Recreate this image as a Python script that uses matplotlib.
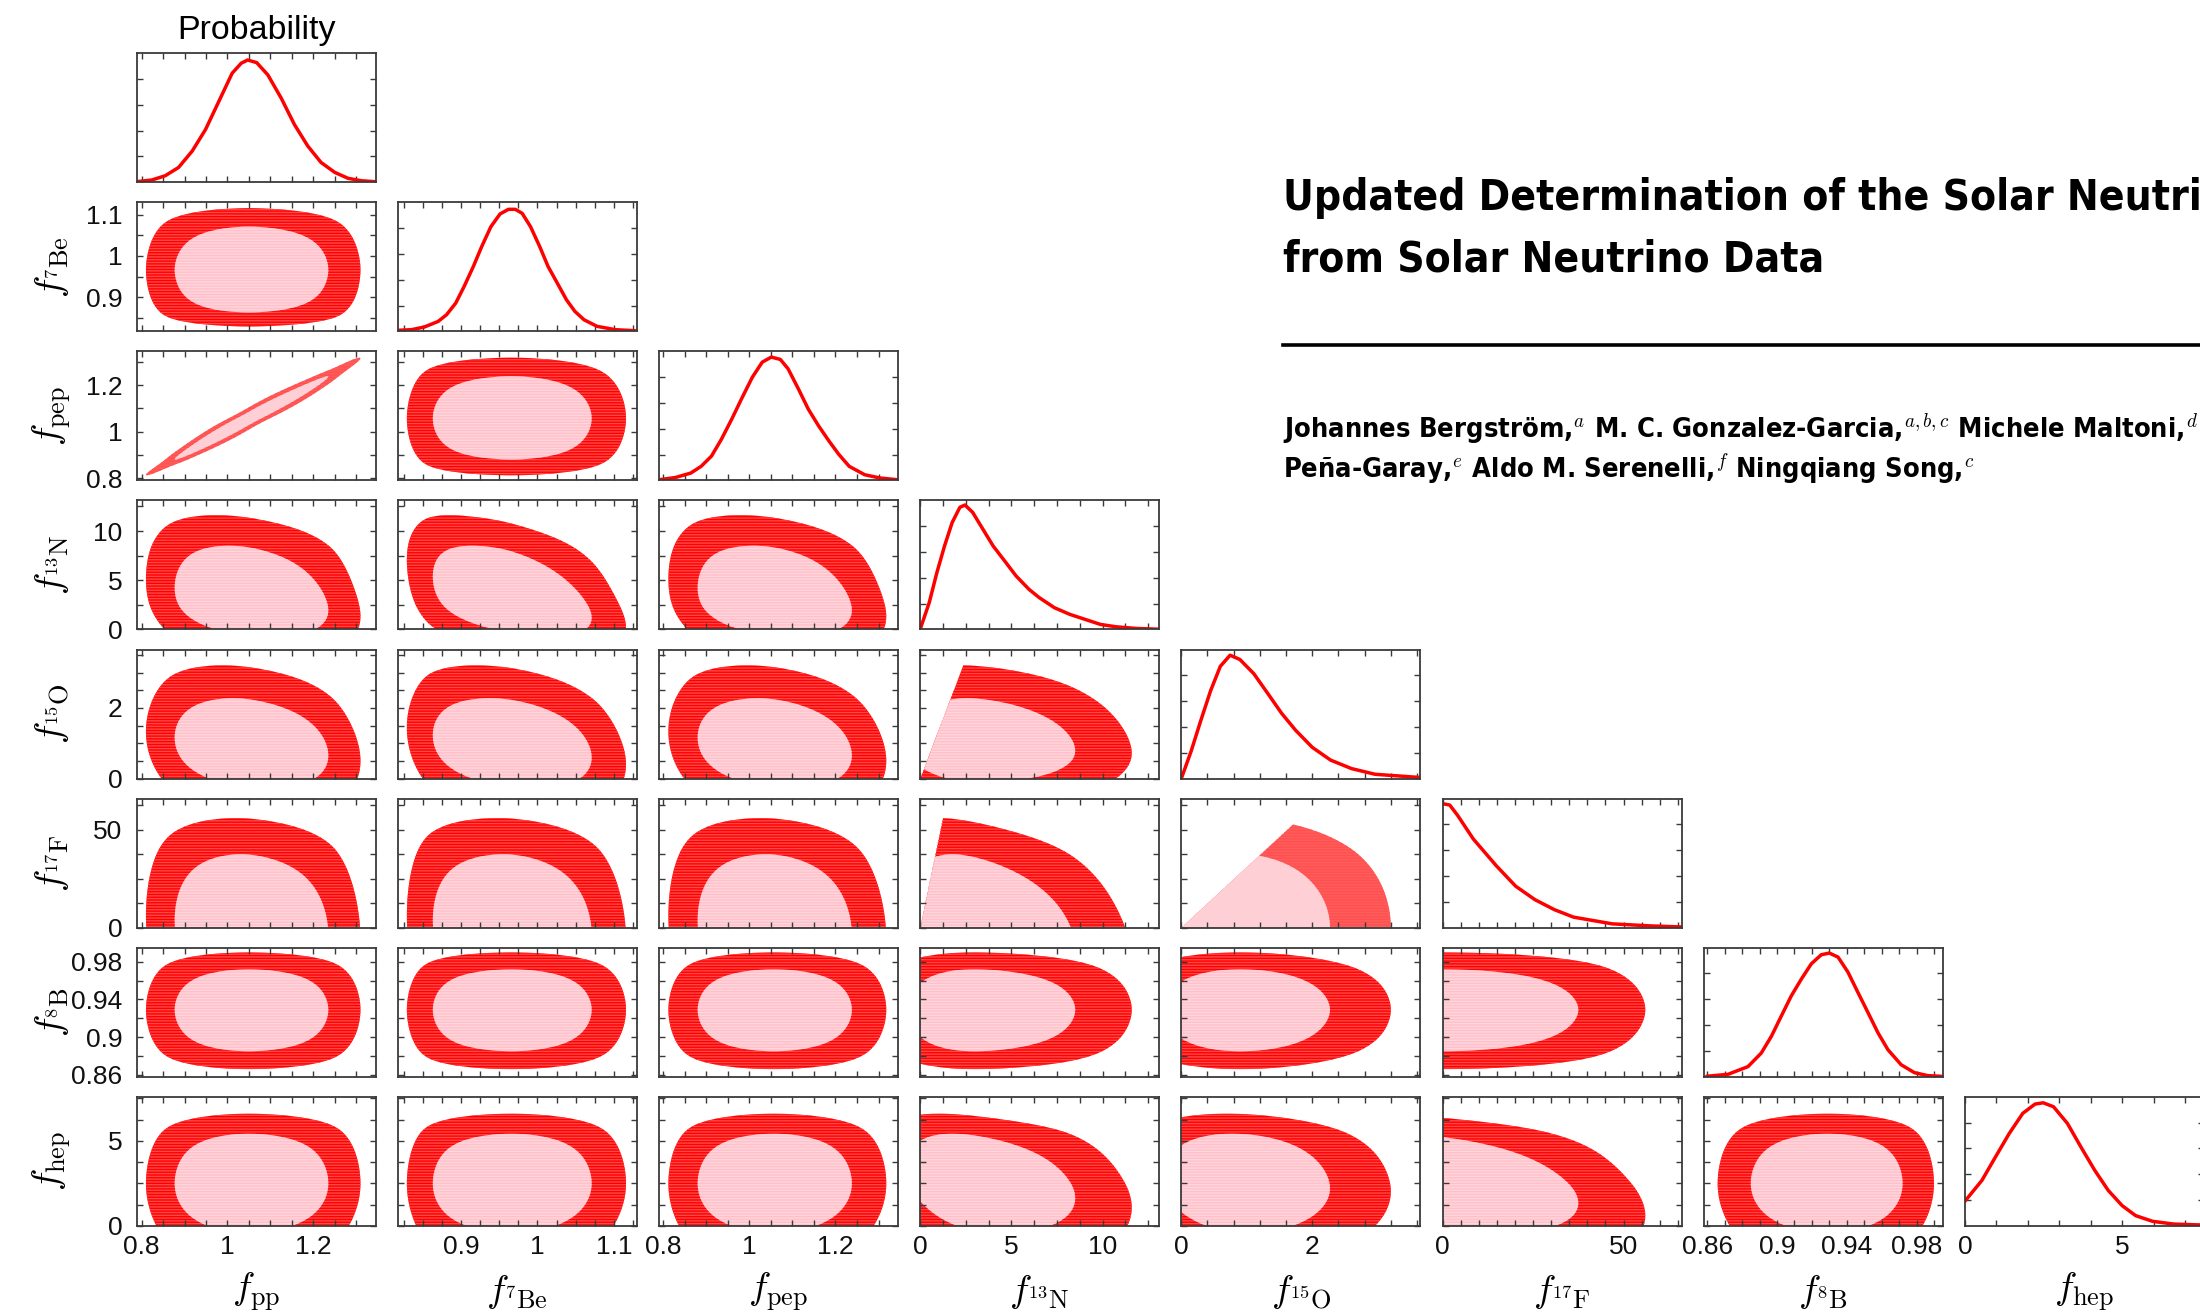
import numpy as np
import matplotlib
matplotlib.use("Agg")
import matplotlib.pyplot as plt
from matplotlib.lines import Line2D

plt.rcParams["mathtext.fontset"] = "cm"
plt.rcParams["font.family"] = ["Liberation Sans", "DejaVu Sans"]
plt.rcParams["hatch.linewidth"] = 1.0

# ---------------------------------------------------------------- variables
names = ["pp", "7Be", "pep", "13N", "15O", "17F", "8B", "hep"]
axis_labels = [r"$f_{\rm pp}$", r"$f_{{}^{7}\mathrm{Be}}$", r"$f_{\rm pep}$",
               r"$f_{{}^{13}\mathrm{N}}$", r"$f_{{}^{15}\mathrm{O}}$",
               r"$f_{{}^{17}\mathrm{F}}$", r"$f_{{}^{8}\mathrm{B}}$", r"$f_{\rm hep}$"]

axis_lo = [0.788, 0.817, 0.790, 0.0, 0.0, 0.0, 0.858, 0.0]
axis_hi = [1.345, 1.130, 1.345, 13.1, 3.65, 66.0, 0.995, 7.6]

tick_vals = [[0.8, 1.0, 1.2], [0.9, 1.0, 1.1], [0.8, 1.0, 1.2], [0, 5, 10],
             [0, 2], [0, 50], [0.86, 0.90, 0.94, 0.98], [0, 5]]
tick_text = [["0.8", "1", "1.2"], ["0.9", "1", "1.1"], ["0.8", "1", "1.2"],
             ["0", "5", "10"], ["0", "2"], ["0", "50"],
             ["0.86", "0.9", "0.94", "0.98"], ["0", "5"]]
minor_step_x = [0.05, 0.025, 0.05, 1.25, 0.4, 5.0, 0.01, 1.0]
minor_step_y = [0.05, 0.05, 0.1, 2.5, 0.5, 12.5, 0.02, 1.25]

# ------------------------------------------------------ 1D marginal curves
pp_grid = [0.789, 0.824, 0.855, 0.886, 0.918, 0.949, 0.980, 1.011, 1.032, 1.047,
           1.068, 1.094, 1.125, 1.156, 1.187, 1.218, 1.250, 1.281, 1.312, 1.343]
pp_prob = [0.005, 0.018, 0.051, 0.115, 0.243, 0.410, 0.628, 0.846, 0.923, 0.948,
           0.928, 0.833, 0.654, 0.448, 0.282, 0.154, 0.077, 0.031, 0.012, 0.005]

be7_grid = [0.817, 0.835, 0.852, 0.870, 0.881, 0.893, 0.904, 0.916, 0.927, 0.939,
            0.951, 0.962, 0.971, 0.980, 0.991, 1.003, 1.014, 1.026, 1.038, 1.049,
            1.061, 1.078, 1.102, 1.128]
be7_prob = [0.008, 0.013, 0.034, 0.077, 0.129, 0.219, 0.348, 0.502, 0.657, 0.811,
            0.910, 0.946, 0.946, 0.915, 0.811, 0.657, 0.502, 0.374, 0.245, 0.155,
            0.090, 0.039, 0.013, 0.005]

pep_grid = [0.790, 0.829, 0.864, 0.888, 0.912, 0.935, 0.959, 0.983, 1.007, 1.030,
            1.051, 1.072, 1.090, 1.114, 1.137, 1.161, 1.185, 1.208, 1.232, 1.268,
            1.303, 1.345]
pep_prob = [0.005, 0.023, 0.057, 0.109, 0.188, 0.318, 0.474, 0.640, 0.800, 0.917,
            0.956, 0.938, 0.865, 0.709, 0.552, 0.422, 0.305, 0.201, 0.109, 0.044,
            0.019, 0.005]

n13_grid = [0.0, 0.50, 0.92, 1.34, 1.76, 2.18, 2.46, 2.88, 3.44, 4.00, 4.56, 5.26,
            5.97, 6.53, 7.36, 8.21, 9.05, 9.89, 10.73, 11.85, 13.1]
n13_prob = [0.0, 0.208, 0.441, 0.648, 0.830, 0.947, 0.965, 0.908, 0.778, 0.648,
            0.545, 0.415, 0.311, 0.247, 0.169, 0.117, 0.078, 0.039, 0.021, 0.008,
            0.002]

o15_grid = [0.0, 0.149, 0.298, 0.447, 0.596, 0.745, 0.894, 1.107, 1.320, 1.533,
            1.746, 2.00, 2.28, 2.60, 2.96, 3.65]
o15_prob = [0.0, 0.210, 0.450, 0.680, 0.870, 0.956, 0.923, 0.813, 0.660, 0.505,
            0.374, 0.242, 0.143, 0.077, 0.033, 0.008]

f17_grid = [0.0, 2.0, 4.2, 8.5, 14.9, 20.2, 25.5, 30.9, 36.2, 46.9, 57.5, 66.0]
f17_prob = [0.961, 0.950, 0.869, 0.687, 0.478, 0.321, 0.217, 0.139, 0.081, 0.029,
            0.013, 0.005]

b8_grid = [0.8597, 0.8719, 0.8834, 0.8910, 0.8968, 0.9025, 0.9082, 0.9140, 0.9197,
           0.9254, 0.9300, 0.9350, 0.9407, 0.9464, 0.9522, 0.9579, 0.9636, 0.9712,
           0.9788, 0.9865, 0.9950]
b8_prob = [0.003, 0.018, 0.078, 0.183, 0.313, 0.470, 0.626, 0.757, 0.875, 0.945,
           0.958, 0.927, 0.810, 0.653, 0.496, 0.340, 0.209, 0.092, 0.031, 0.008,
           0.002]

hep_grid = [0.0, 0.54, 0.97, 1.41, 1.84, 2.23, 2.49, 2.82, 3.26, 3.69, 4.13, 4.56,
            5.00, 5.43, 5.97, 6.63, 7.60]
hep_prob = [0.190, 0.351, 0.532, 0.715, 0.871, 0.943, 0.953, 0.922, 0.793, 0.610,
            0.429, 0.273, 0.156, 0.078, 0.034, 0.013, 0.005]

marginals = [(pp_grid, pp_prob), (be7_grid, be7_prob), (pep_grid, pep_prob),
             (n13_grid, n13_prob), (o15_grid, o15_prob), (f17_grid, f17_prob),
             (b8_grid, b8_prob), (hep_grid, hep_prob)]

# ------------------------------------------- 2D allowed regions (68% / 95%)
band95_lo = [0.810, 0.829, 0.812, -3.2, -1.05, -56.0, 0.866, -2.30]
band68_lo = [0.877, 0.863, 0.880, -0.8, -0.29, -37.5, 0.885, -0.42]
centre    = [1.050, 0.966, 1.057, 3.0, 0.90, 0.0, 0.929, 2.50]
band68_hi = [1.235, 1.071, 1.238, 8.5, 2.27, 37.5, 0.972, 5.42]
band95_hi = [1.310, 1.116, 1.318, 11.6, 3.20, 56.0, 0.990, 6.60]

# lower band edges of the row variable that differ in a given panel (col, row)
panel_row_lower = {(3, 4): (-0.757, -0.11)}

# correlation of each pair (row variable, column variable), lower triangle
corr_rows = [
    [],
    [0.0],
    [0.988, 0.0],
    [-0.25, -0.45, -0.25],
    [-0.20, -0.25, -0.20, -0.10],
    [-0.10, -0.10, -0.10, -0.30, 0.0],
    [0.0, 0.0, 0.0, 0.0, 0.0, 0.0],
    [0.0, 0.0, 0.0, -0.30, -0.10, -0.40, 0.0],
]

# upper bounds of the form  f_row <= ratio * f_col
ratio_bounds = {(3, 4): 1.36, (4, 5): 31.0, (3, 5): 45.0}

# --------------------------------------------------------------- styling
RED, RED_STRIPE = "#ff0000", "#ff4848"
PINK, PINK_STRIPE = "#ffc0ca", "#ffd6dc"
RED_SOFT, RED_SOFT_STRIPE = "#ff5050", "#ff5c5c"
PINK_SOFT = "#ffcfd6"
soft_pairs = {(0, 2), (4, 5)}
SPINE = "#3a3a3a"
R1, R2 = np.sqrt(2.30), np.sqrt(6.18)

W, H = 2200.0, 1315.0
X0, DX, PW = 136.5, 261.2, 239.0
Y0, DY, PH = 53.3, 149.06, 129.0


def pchip_map(xk, yk, x):
    """Monotone cubic map through the knots, linear beyond the ends."""
    xk = np.asarray(xk, float)
    yk = np.asarray(yk, float)
    h = np.diff(xk)
    d = np.diff(yk) / h
    m = np.empty_like(yk)
    m[0], m[-1] = d[0], d[-1]
    for k in range(1, len(xk) - 1):
        w1 = 2 * h[k] + h[k - 1]
        w2 = h[k] + 2 * h[k - 1]
        m[k] = (w1 + w2) / (w1 / d[k - 1] + w2 / d[k])
    x = np.asarray(x, float)
    idx = np.clip(np.searchsorted(xk, x) - 1, 0, len(xk) - 2)
    t = (x - xk[idx]) / h[idx]
    inside = (x >= xk[0]) & (x <= xk[-1])
    h00 = 2 * t**3 - 3 * t**2 + 1
    h10 = t**3 - 2 * t**2 + t
    h01 = -2 * t**3 + 3 * t**2
    h11 = t**3 - t**2
    herm = (h00 * yk[idx] + h10 * h[idx] * m[idx] + h01 * yk[idx + 1]
            + h11 * h[idx] * m[idx + 1])
    out = np.where(inside, herm, 0.0)
    out = np.where(x < xk[0], yk[0] + (x - xk[0]) * m[0], out)
    out = np.where(x > xk[-1], yk[-1] + (x - xk[-1]) * m[-1], out)
    return out


def normal_score(v, k, lower=None):
    lo95, lo68 = lower if lower is not None else (band95_lo[k], band68_lo[k])
    knots = [lo95, lo68, centre[k], band68_hi[k], band95_hi[k]]
    return pchip_map(knots, [-R2, -R1, 0.0, R1, R2], v)


def set_ticks(axis, k, step):
    axis.set_ticks(tick_vals[k])
    axis.set_ticklabels(tick_text[k])
    lo, hi = axis_lo[k], axis_hi[k]
    minor = np.arange(np.ceil(lo / step - 1e-9) * step, hi + 1e-9, step)
    axis.set_ticks(minor, minor=True)


fig = plt.figure(figsize=(22, 13.15), dpi=100)
n = len(names)

for i in range(n):
    for j in range(i + 1):
        rect = [(X0 + DX * j) / W, 1 - (Y0 + DY * i + PH) / H, PW / W, PH / H]
        ax = fig.add_axes(rect)
        ax.set_xlim(axis_lo[j], axis_hi[j])
        set_ticks(ax.xaxis, j, minor_step_x[j])
        if i == j:
            grid, prob = marginals[j]
            ax.plot(grid, prob, color=RED, lw=2.5, solid_joinstyle="round",
                    solid_capstyle="round")
            ax.set_ylim(0, 1)
            ax.set_yticks([0.2, 0.4, 0.6, 0.8])
            ax.set_yticklabels([])
        else:
            ax.set_ylim(axis_lo[i], axis_hi[i])
            set_ticks(ax.yaxis, i, minor_step_y[i])
            gx = np.linspace(axis_lo[j], axis_hi[j], 420)
            gy = np.linspace(axis_lo[i], axis_hi[i], 300)
            GX, GY = np.meshgrid(gx, gy)
            U = normal_score(GX, j)
            V = normal_score(GY, i, panel_row_lower.get((j, i)))
            rho = corr_rows[i][j]
            D = (U**2 - 2 * rho * U * V + V**2) / (1 - rho**2)
            if (j, i) in ratio_bounds:
                D = np.where(GY > ratio_bounds[(j, i)] * GX, 1e3, D)
            soft = (j, i) in soft_pairs
            c95, s95 = (RED_SOFT, RED_SOFT_STRIPE) if soft else (RED, RED_STRIPE)
            c68, s68 = (PINK_SOFT, PINK_SOFT) if soft else (PINK, PINK_STRIPE)
            with plt.rc_context({"hatch.color": s95}):
                ax.contourf(GX, GY, D, levels=[-1.0, R2**2], colors=[c95],
                            hatches=["------"], antialiased=True)
            with plt.rc_context({"hatch.color": s68}):
                ax.contourf(GX, GY, D, levels=[-1.0, R1**2], colors=[c68],
                            hatches=["------"], antialiased=True)

        ax.tick_params(axis="both", which="both", direction="in", top=True,
                       right=True, length=4, width=1.0, color=SPINE,
                       labelsize=19, labelcolor="#111111")
        ax.tick_params(axis="x", pad=7)
        ax.tick_params(axis="y", pad=10)
        ax.tick_params(labelbottom=(i == n - 1), labelleft=(j == 0 and i > 0))
        for sp in ax.spines.values():
            sp.set_color(SPINE)
            sp.set_linewidth(1.3)

# axis names
for k in range(n):
    xc = (X0 + DX * k + PW / 2) / W
    fig.text(xc, 1 - 1292 / H, axis_labels[k], ha="center", va="center",
             fontsize=27)
    if k > 0:
        yc = 1 - (Y0 + DY * k + PH / 2) / H
        fig.text(52 / W, yc, axis_labels[k], ha="center", va="center",
                 rotation=90, fontsize=27)

fig.text((X0 + PW / 2) / W, 1 - 39 / H, "Probability", ha="center",
         va="baseline", fontsize=24.5)

# title block of the page
title_kw = dict(fontsize=30.4, fontweight="bold", family=["DejaVu Sans"],
                fontstretch="condensed", ha="left", va="baseline", color="black")
fig.text(1283 / W, 1 - 210 / H,
         "Updated Determination of the Solar Neutrino Fluxes", **title_kw)
fig.text(1283 / W, 1 - 272 / H, "from Solar Neutrino Data", **title_kw)
fig.add_artist(Line2D([1283 / W, 1.0], [1 - 345 / H, 1 - 345 / H],
                      color="black", lw=2.6))
author_kw = dict(fontsize=19.5, fontweight="bold", family=["DejaVu Sans"],
                 fontstretch="condensed", ha="left", va="baseline", color="black")
fig.text(1283 / W, 1 - 438 / H,
         r"Johannes Bergström,$^{a}$ M. C. Gonzalez-Garcia,$^{a,b,c}$ "
         r"Michele Maltoni,$^{d}$", **author_kw)
fig.text(1283 / W, 1 - 478 / H,
         r"Peña-Garay,$^{e}$ Aldo M. Serenelli,$^{f}$ Ningqiang Song,$^{c}$",
         **author_kw)

fig.savefig("out.png", dpi=100)
